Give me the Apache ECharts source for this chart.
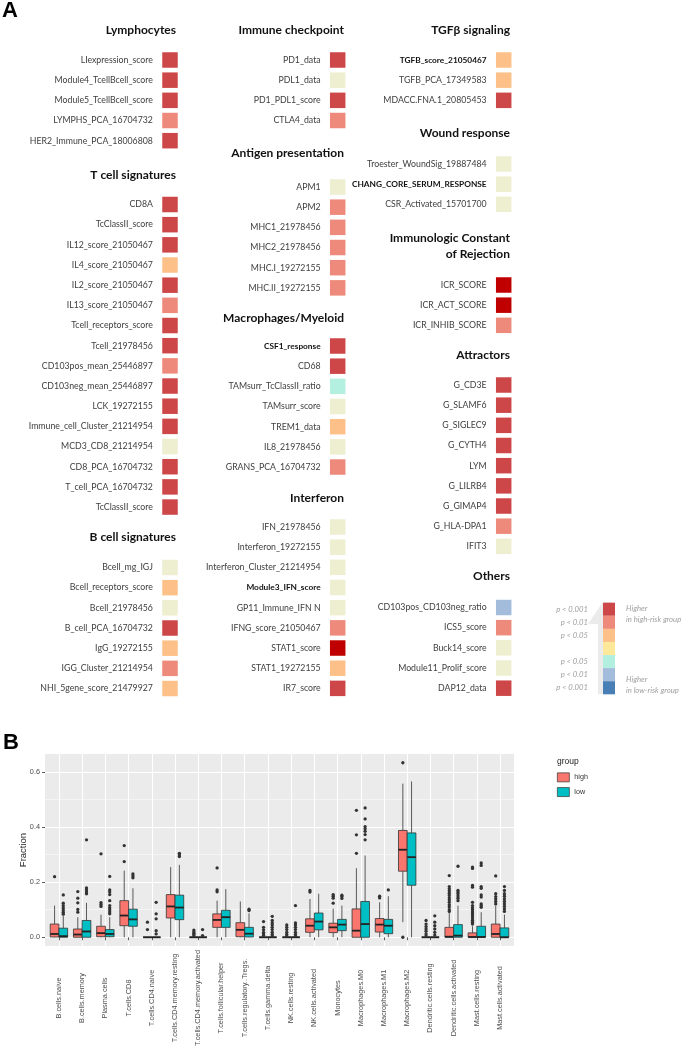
<!DOCTYPE html>
<html><head><meta charset="utf-8">
<script src="https://cdn.jsdelivr.net/npm/echarts@6/dist/echarts.min.js"></script>
<style>html,body{margin:0;padding:0;background:#fff}#c{width:685px;height:1048px}</style>
</head><body><div id="c"></div>
<script>
// ================= DATA : panel A =================
// significance code: 4 = strongest (deep red), 3 = p<0.001 high, 2 = p<0.01 high, 1 = p<0.05 high,
// 0 = not significant, -1 = p<0.05 low, -2 = p<0.01 low, -3 = p<0.001 low
const groupTitles = ['Lymphocytes','T cell signatures','B cell signatures',
  'Immune checkpoint','Antigen presentation','Macrophages/Myeloid','Interferon',
  'TGFβ signaling','Wound response','Immunologic Constant\nof Rejection','Attractors','Others'];

const lymphocytes = ['LIexpression_score','Module4_TcellBcell_score','Module5_TcellBcell_score','LYMPHS_PCA_16704732','HER2_Immune_PCA_18006808'];
const lymphocytesSig = [3,3,3,2,3];
const tcell = ['CD8A','TcClassII_score','IL12_score_21050467','IL4_score_21050467','IL2_score_21050467','IL13_score_21050467','Tcell_receptors_score','Tcell_21978456','CD103pos_mean_25446897','CD103neg_mean_25446897','LCK_19272155','Immune_cell_Cluster_21214954','MCD3_CD8_21214954','CD8_PCA_16704732','T_cell_PCA_16704732','TcClassII_score'];
const tcellSig = [3,3,3,1,3,2,3,3,2,3,3,3,0,3,3,3];
const bcell = ['Bcell_mg_IGJ','Bcell_receptors_score','Bcell_21978456','B_cell_PCA_16704732','IgG_19272155','IGG_Cluster_21214954','NHI_5gene_score_21479927'];
const bcellSig = [0,1,0,3,1,2,1];
const checkpoint = ['PD1_data','PDL1_data','PD1_PDL1_score','CTLA4_data'];
const checkpointSig = [3,0,3,2];
const antigen = ['APM1','APM2','MHC1_21978456','MHC2_21978456','MHC.I_19272155','MHC.II_19272155'];
const antigenSig = [0,2,2,2,2,2];
const macro = ['CSF1_response','CD68','TAMsurr_TcClassII_ratio','TAMsurr_score','TREM1_data','IL8_21978456','GRANS_PCA_16704732'];
const macroSig = [3,3,-1,0,1,0,2];
const interferon = ['IFN_21978456','Interferon_19272155','Interferon_Cluster_21214954','Module3_IFN_score','GP11_Immune_IFN N','IFNG_score_21050467','STAT1_score','STAT1_19272155','IR7_score'];
const interferonSig = [0,0,0,0,0,2,4,1,3];
const tgfb = ['TGFB_score_21050467','TGFB_PCA_17349583','MDACC.FNA.1_20805453'];
const tgfbSig = [1,1,3];
const wound = ['Troester_WoundSig_19887484','CHANG_CORE_SERUM_RESPONSE','CSR_Activated_15701700'];
const woundSig = [0,0,0];
const icr = ['ICR_SCORE','ICR_ACT_SCORE','ICR_INHIB_SCORE'];
const icrSig = [4,4,2];
const attractors = ['G_CD3E','G_SLAMF6','G_SIGLEC9','G_CYTH4','LYM','G_LILRB4','G_GIMAP4','G_HLA-DPA1','IFIT3'];
const attractorsSig = [3,3,3,3,3,3,3,2,0];
const others = ['CD103pos_CD103neg_ratio','ICS5_score','Buck14_score','Module11_Prolif_score','DAP12_data'];
const othersSig = [-2,2,0,0,3];
const boldItems = ['TGFB_score_21050467','CHANG_CORE_SERUM_RESPONSE','CSF1_response','Module3_IFN_score'];

const legendLabels = ['p < 0.001','p < 0.01','p < 0.05','','p < 0.05','p < 0.01','p < 0.001'];

// ================= DATA : panel B =================
const cellTypes = ['B.cells.naive','B.cells.memory','Plasma.cells','T.cells.CD8','T.cells.CD4.naive','T.cells.CD4.memory.resting','T.cells.CD4.memory.activated','T.cells.follicular.helper','T.cells.regulatory..Tregs.','T.cells.gamma.delta','NK.cells.resting','NK.cells.activated','Monocytes','Macrophages.M0','Macrophages.M1','Macrophages.M2','Dendritic.cells.resting','Dendritic.cells.activated','Mast.cells.resting','Mast.cells.activated'];
const groupNamesB = ['high','low'];
// [lower whisker, Q1, median, Q3, upper whisker]
const highStats = [
  [0,0.001,0.012,0.048,0.115],[0,0,0.010,0.030,0.073],[0,0.002,0.015,0.040,0.082],[0,0.042,0.079,0.133,0.242],
  [0,0,0,0,0],[0,0.070,0.112,0.155,0.255],[0,0,0,0,0],[0,0.036,0.063,0.085,0.133],
  [0,0.002,0.027,0.053,0.130],[0,0,0,0,0],[0,0,0,0,0],[0,0.018,0.042,0.067,0.139],
  [0,0.017,0.036,0.051,0.104],[0,0,0.024,0.103,0.251],[0,0.019,0.046,0.068,0.127],[0.055,0.240,0.318,0.388,0.558],
  [0,0,0,0,0],[0,0,0.002,0.036,0.088],[0,0,0.001,0.016,0.040],[0,0,0.012,0.048,0.115]];
const lowStats = [
  [0,0,0.004,0.033,0.078],[0,0,0.021,0.061,0.125],[0,0.002,0.012,0.028,0.073],[0,0.040,0.065,0.102,0.178],
  [0,0,0,0,0],[0,0.064,0.108,0.153,0.263],[0,0,0,0,0],[0,0.036,0.073,0.098,0.175],
  [0,0.001,0.013,0.036,0.087],[0,0,0,0,0],[0,0,0,0,0],[0,0.027,0.057,0.088,0.158],
  [0,0.024,0.046,0.065,0.115],[0,0,0.048,0.130,0.297],[0,0.013,0.042,0.065,0.149],[0,0.189,0.291,0.379,0.566],
  [0,0,0,0,0],[0,0,0.006,0.046,0.115],[0,0,0.001,0.040,0.091],[0,0,0.0,0.034,0.082]];
const highOutliers = [
  [0.22],[0.166,0.142,0.125,0.101,0.091],[0.303,0.126,0.119,0.112],[0.333,0.275],
  [0.055,0.028],[],[0.026,0.02,0.015,0.01,0.005],[0.252,0.172,0.165],
  [],[0.057,0.036,0.027,0.018,0.012,0.006],[0.045,0.036,0.028,0.018,0.01,0.004],[0.170,0.164],
  [0.155,0.149,0.142,0.124],[0.461,0.372,0.305],[0.149,0.143],[0.634,0.0],
  [0.061,0.048,0.039,0.03,0.022,0.012,0.005],[0.224,0.184,0.176,0.168,0.16,0.152,0.143,0.135,0.127,0.118,0.11,0.1,0.094],
  [0.255,0.25,0.188,0.182,0.127,0.115,0.107,0.1,0.092,0.085,0.078,0.07,0.062,0.055,0.048],[0.223,0.158,0.148,0.139,0.13,0.121]];
const lowOutliers = [
  [0.154,0.124,0.115,0.107,0.099,0.091,0.084],[0.354,0.179,0.172,0.164,0.158],[0.221,0.172,0.164,0.155,0.133,0.115,0.107,0.1,0.092,0.085],[0.230,0.223,0.216],
  [0.127,0.085,0.067,0.024,0.012],[0.305,0.299,0.293],[0.028,0.006],[],
  [0.102,0.097],[0.076,0.061,0.052,0.045,0.036,0.028,0.018,0.01,0.004],[0.115,0.052,0.045,0.036,0.028,0.018,0.01,0.004],[],
  [0.153,0.148,0.141],[0.47,0.43,0.402,0.394,0.385,0.373,0.354],[0.172],[],
  [0.078,0.055,0.042,0.03,0.018,0.008],[0.258,0.170,0.164,0.158,0.150,0.142,0.133],
  [0.27,0.261,0.184,0.178,0.154,0.146,0.121,0.115,0.109],[0.184,0.17,0.158,0.149,0.139,0.13,0.121,0.112,0.103,0.094]];
const yTicksB = [0, 0.2, 0.4, 0.6];

// ================= LAYOUT / STYLE =================
const groupItems = [lymphocytes,tcell,bcell,checkpoint,antigen,macro,interferon,tgfb,wound,icr,attractors,others];
const groupSig = [lymphocytesSig,tcellSig,bcellSig,checkpointSig,antigenSig,macroSig,interferonSig,tgfbSig,woundSig,icrSig,attractorsSig,othersSig];
const FONT_A = 'Lato, "Open Sans", sans-serif';
const FONT_B = '"Liberation Sans", Arial, sans-serif';
const PITCH = 20.17;
const colLayout = [{c:170, hr:176},{c:337.7, hr:344},{c:503.7, hr:510}];
const groupLayout = [
  {col:0,h:30,f:60},{col:0,h:175,f:204.5},{col:0,h:537,f:567.5},
  {col:1,h:30,f:60},{col:1,h:153,f:187},{col:1,h:318,f:346},{col:1,h:498,f:527},
  {col:2,h:30,f:60},{col:2,h:133,f:164},{col:2,h:246,f:285},{col:2,h:355,f:385},{col:2,h:576,f:607.5}];
const sigColors = [
  {value:4,color:'#C00000'},{value:3,color:'#CD4749'},{value:2,color:'#EE8A7B'},{value:1,color:'#FDC088'},
  {value:0,color:'#EEEED0'},{value:-1,color:'#B3F0E0'},{value:-2,color:'#A3BCDC'},{value:-3,color:'#4A7FB5'}];
const legendColors = ['#CD4749','#EE8A7B','#FDC088','#FEE89A','#B3EFDF','#A3BCDC','#4A7FB5'];

const grids=[], xAxes=[], yAxes=[], series=[], graphics=[];
const squareSeries = [];
groupItems.forEach((items, gi) => {
  const L = groupLayout[gi], C = colLayout[L.col];
  grids.push({left: C.c - PITCH/2, top: L.f - PITCH/2, width: PITCH, height: items.length*PITCH, outerBoundsMode:'none'});
  xAxes.push({type:'category', gridIndex:gi, data:[''], show:false});
  yAxes.push({type:'category', gridIndex:gi, data:items, inverse:true,
    axisLine:{show:false}, axisTick:{show:false}, splitLine:{show:false},
    axisLabel:{interval:0, margin:7, fontFamily:FONT_A, fontSize:8.75, color:'#404040',
      formatter:(v)=> boldItems.includes(v) ? '{b|'+v+'}' : v,
      rich:{b:{fontFamily:FONT_A, fontSize:8.3, fontWeight:'bold', color:'#111'}}}});
  squareSeries.push(series.length);
  series.push({type:'scatter', xAxisIndex:gi, yAxisIndex:gi, symbol:'rect', symbolSize:15.5, silent:true,
    itemStyle:{opacity:1},
    data: groupSig[gi].map((s,i)=>[0,i,s])});
  graphics.push({type:'text', x:C.hr, y:L.h, style:{text:groupTitles[gi], align:'right', verticalAlign:'middle',
    font:'bold 12px '+FONT_A, fill:'#111', lineHeight:16}});
});

// significance legend (colour bar)
const lg = grids.length;
grids.push({left:603, top:602.7, width:12, height:91.6, outerBoundsMode:'none'});
xAxes.push({type:'category', gridIndex:lg, data:[''], show:false});
yAxes.push({type:'category', gridIndex:lg, data:legendLabels.map((_,i)=>String(i)), inverse:true,
  axisLine:{show:false}, axisTick:{show:false}, splitLine:{show:false},
  axisLabel:{interval:0, margin:15, fontFamily:FONT_A, fontSize:7.7, fontStyle:'italic', color:'#A0A0A0',
    formatter:(v,i)=>legendLabels[i]}});
series.push({type:'scatter', xAxisIndex:lg, yAxisIndex:lg, symbol:'rect', symbolSize:[12,13.1], silent:true, z:3,
  data: legendColors.map((c,i)=>({value:[0,i], itemStyle:{color:c, opacity:1}}))});
graphics.push({type:'polygon', z:-1, shape:{points:[[603,602],[588,624],[598,624],[598,694],[612,694],[612,602]]}, style:{fill:'#EBEBEB'}});
[['Higher',609],['in high-risk group',620],['Higher',680],['in low-risk group',691]].forEach(([t,y])=>{
  graphics.push({type:'text', x:626, y:y, style:{text:t, align:'left', verticalAlign:'middle', font:'italic 7.7px '+FONT_A, fill:'#A0A0A0'}});
});
graphics.push({type:'text', x:2, y:11, style:{text:'A', verticalAlign:'middle', font:'bold 22px '+FONT_B, fill:'#000'}});
graphics.push({type:'text', x:3, y:743, style:{text:'B', verticalAlign:'middle', font:'bold 22px '+FONT_B, fill:'#000'}});
graphics.push({type:'text', x:557, y:762, style:{text:'group', verticalAlign:'middle', font:'8.5px '+FONT_B, fill:'#222'}});

// ================= panel B =================
const PX0 = 45, PY0 = 754, PW = 469, PH = 192;
const YMIN = -0.0317, YMAX = 0.6657;
const BAND = PW / (cellTypes.length - 1 + 1.2);
const yPix = v => PY0 + PH - (v - YMIN) / (YMAX - YMIN) * PH;

// background
const gBg = grids.length;
grids.push({left:PX0, top:PY0, width:PW, height:PH, show:true, backgroundColor:'#EBEBEB', borderWidth:0, outerBoundsMode:'none'});
xAxes.push({type:'value', gridIndex:gBg, show:false});
yAxes.push({type:'value', gridIndex:gBg, min:0, max:1, name:'Fraction', nameLocation:'middle', nameGap:17, nameRotate:90,
  nameTextStyle:{fontFamily:FONT_B, fontSize:9.5, color:'#222'},
  axisLine:{show:false}, axisTick:{show:false}, axisLabel:{show:false}, splitLine:{show:false}});
// horizontal grid lines + tick labels
const gY = grids.length;
const y0 = yPix(yTicksB[0]), y1 = yPix(yTicksB[yTicksB.length-1]);
grids.push({left:PX0, top:y1, width:PW, height:y0-y1, outerBoundsMode:'none'});
xAxes.push({type:'value', gridIndex:gY, show:false});
yAxes.push({type:'value', gridIndex:gY, min:yTicksB[0], max:yTicksB[yTicksB.length-1], interval:0.2,
  axisLine:{show:false}, axisTick:{show:true, length:3, lineStyle:{color:'#333', width:0.8}},
  axisLabel:{margin:5, fontFamily:FONT_B, fontSize:7.3, color:'#4D4D4D', formatter:v=>v.toFixed(1)},
  splitLine:{show:true, lineStyle:{color:'#FFFFFF', width:1.1}},
  minorTick:{show:false, splitNumber:2}, minorSplitLine:{show:true, lineStyle:{color:'#FFFFFF', width:0.5}}});
// vertical grid lines
const gX = grids.length;
grids.push({left:PX0 + 0.6*BAND, top:PY0, width:(cellTypes.length-1)*BAND, height:PH, outerBoundsMode:'none'});
xAxes.push({type:'value', gridIndex:gX, min:0, max:cellTypes.length-1, interval:1,
  axisLine:{show:false}, axisTick:{show:false}, axisLabel:{show:false},
  splitLine:{show:true, lineStyle:{color:'#FFFFFF', width:1.1}}});
yAxes.push({type:'value', gridIndex:gX, show:false});
// boxes
const gB = grids.length;
grids.push({left:PX0 + 0.1*BAND, top:PY0, width:cellTypes.length*BAND, height:PH, outerBoundsMode:'none'});
xAxes.push({type:'category', gridIndex:gB, data:cellTypes,
  axisLine:{show:false}, axisTick:{show:true, alignWithLabel:true, length:3, lineStyle:{color:'#333', width:0.8}},
  axisLabel:{interval:0, rotate:90, align:'center', verticalAlign:'middle', margin:52,
    fontFamily:FONT_B, fontSize:7.3, color:'#4D4D4D'}, splitLine:{show:false}});
yAxes.push({type:'value', gridIndex:gB, min:YMIN, max:YMAX, show:false});

const boxColors = {high:'#F8766D', low:'#00BFC4'};
function boxRenderer(sign, fill){
  return function(params, api){
    const cat = api.value(0);
    const band = api.size([1,0])[0];
    const half = band*0.1875;
    const cx = api.coord([cat,0])[0] + sign*half;
    const yv = k => api.coord([cat, api.value(k)])[1];
    const yMin=yv(1), yQ1=yv(2), yMed=yv(3), yQ3=yv(4), yMax=yv(5);
    const st = {stroke:'#333333', lineWidth:0.8};
    return {type:'group', children:[
      {type:'line', shape:{x1:cx,y1:yMax,x2:cx,y2:yQ3}, style:st},
      {type:'line', shape:{x1:cx,y1:yQ1,x2:cx,y2:yMin}, style:st},
      {type:'rect', shape:{x:cx-half, y:yQ3, width:2*half, height:Math.max(yQ1-yQ3,0)}, style:{fill:fill, stroke:'#333333', lineWidth:0.8}},
      {type:'line', shape:{x1:cx-half,y1:yMed,x2:cx+half,y2:yMed}, style:{stroke:'#222', lineWidth:1.8}}
    ]};
  };
}
[[highStats,'high',-1],[lowStats,'low',1]].forEach(([stats,name,sign])=>{
  series.push({type:'custom', name:name, xAxisIndex:gB, yAxisIndex:gB, itemStyle:{color:boxColors[name]},
    renderItem: boxRenderer(sign, boxColors[name]), encode:{x:0, y:[1,2,3,4,5]},
    data: stats.map((s,i)=>[i].concat(s)), z:3});
});
[[highOutliers,-1],[lowOutliers,1]].forEach(([outs,sign])=>{
  const d=[]; outs.forEach((arr,i)=>arr.forEach(v=>d.push([i,v])));
  series.push({type:'scatter', xAxisIndex:gB, yAxisIndex:gB, symbol:'circle', symbolSize:3.3,
    symbolOffset:[sign*BAND*0.1875,0], itemStyle:{color:'#333', opacity:1}, silent:true, z:4, data:d});
});

const option = {
  animation:false, backgroundColor:'#fff',
  grid:grids, xAxis:xAxes, yAxis:yAxes, series:series, graphic:graphics,
  visualMap:{type:'piecewise', show:false, dimension:2, seriesIndex:squareSeries, pieces:sigColors},
  legend:{data:groupNamesB.map(n=>({name:n, icon:'rect', itemStyle:{color:boxColors[n], borderColor:'#333', borderWidth:0.7}})),
    orient:'vertical', left:557, top:772.5, padding:0, itemWidth:12, itemHeight:9, itemGap:5,
    textStyle:{fontFamily:FONT_B, fontSize:7.2, color:'#333'}}
};
const chart = echarts.init(document.getElementById('c'));
chart.setOption(option);
</script></body></html>
